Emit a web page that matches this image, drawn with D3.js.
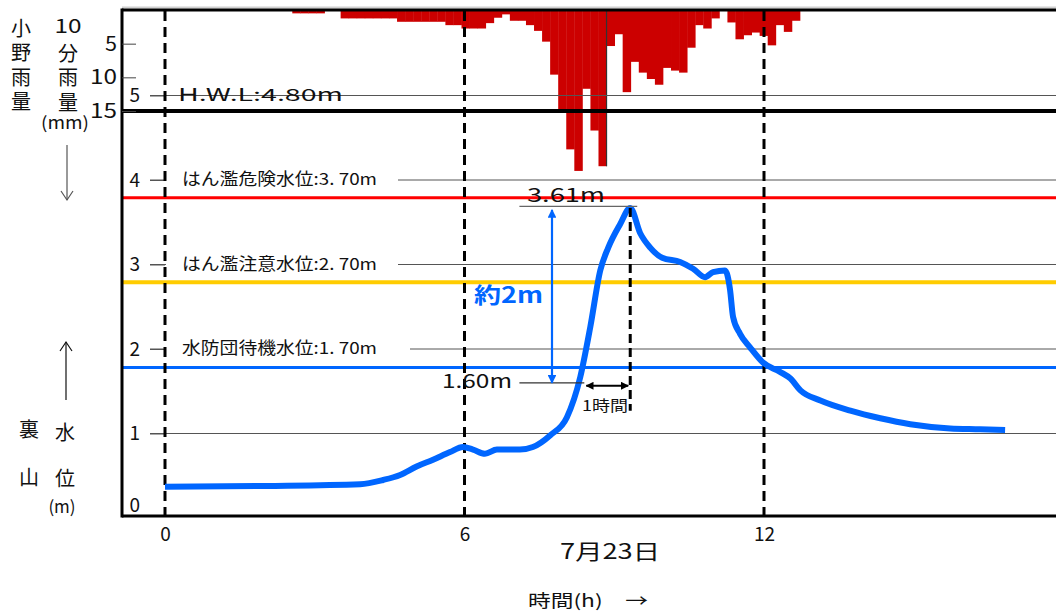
<!DOCTYPE html>
<html>
<head>
<meta charset="utf-8">
<script src="https://cdn.jsdelivr.net/npm/d3@7"></script>
<style>
  body { margin: 0; background: #fff; }
  svg text { font-family: "Noto Sans CJK JP", "Noto Sans", sans-serif; fill: #111; }
</style>
</head>
<body>
<svg id="chart" width="1056" height="613"></svg>
<script>
// Water level at Urayama (m), hours from 0:00 on 7/23
const levelHours = [0, 2.04, 3.91, 4.37, 4.71, 5.04, 5.37, 5.71, 5.97, 6.17,
  6.41, 6.65, 7.11, 7.37, 7.72, 8.05, 8.32, 8.52, 8.72, 8.88,
  9.12, 9.32, 9.52, 9.72, 9.96, 10.32, 10.58, 10.82, 10.98, 11.22,
  11.32, 11.38, 11.52, 11.72, 11.98, 12.32, 12.53, 12.73, 13.13, 13.73,
  14.33, 14.93, 15.73, 16.33, 16.83]
const levelValues = [0.37, 0.38, 0.40, 0.45, 0.51, 0.61, 0.69, 0.78, 0.84, 0.81,
  0.76, 0.81, 0.81, 0.84, 0.98, 1.19, 1.67, 2.26, 2.93, 3.20,
  3.48, 3.67, 3.37, 3.20, 3.08, 3.03, 2.95, 2.85, 2.91, 2.93,
  2.70, 2.38, 2.18, 2.02, 1.84, 1.73, 1.65, 1.51, 1.39, 1.27,
  1.18, 1.11, 1.06, 1.05, 1.04]

// Ono 10-minute rainfall (mm)
const rainStart = 2.55
const rainEnd = 12.72
const rainValues = [0.5, 0.5, 0.5, 0.5, 0, 0,
  1.25, 1.25, 1.25, 1.25, 1.25, 1.25, 1.25,
  1.75, 1.75, 1.75, 1.75, 1.75, 1.75,
  2.25, 2.25, 2.75, 2.75, 2.75, 1.95, 1.15, 0.65, 1.6, 1.6, 2.25,
  3.1, 4.7, 9.6, 14.9, 20.7, 23.9, 11.7, 17.9, 23.2, 5.35,
  3.6, 12.2, 7.7, 9.3, 10.25, 11.1, 8.6, 9.0, 9.3, 5.6,
  2.25, 2.75, 1.25, 0, 1.85, 4.35, 3.75, 3.35, 3.85, 5.25,
  2.25, 3.25, 1.6]
const rainMarkBin = 39

// Axes
const hourTicks = [0, 6, 12]
const levelTicks = [0, 1, 2, 3, 4, 5]
const rainTicks = [5, 10, 15]
const dashedHours = [0, 6, 12]

// Warning levels
const thresholdLabels = ["はん濫危険水位:3. 70m", "はん濫注意水位:2. 70m", "水防団待機水位:1. 70m"]
const thresholdLevels = [3.79, 2.79, 1.78]
const hwlLabel = "H.W.L:4.80m"

// Rise annotation
const peakLabel = "3.61m"
const riseLow = 1.60
const riseFrom = 7.1
const riseCross = 8.4

const svg = d3.select("#chart")
const W = 1056
const frameL = 122, frameT = 10, frameB = 516, sepY = 111

const x = d3.scaleLinear().domain([0, 12]).range([165, 764])
const y = d3.scaleLinear().domain([0, 5]).range([518, 95.5])
const yR = d3.scaleLinear().domain([0, 15]).range([frameT, sepY])
const band = d3.scaleBand().domain(d3.range(rainValues.length))
  .range([x(rainStart), x(rainEnd)])

svg.append("rect").attr("width", W).attr("height", 613).attr("fill", "#fff")

// arrowheads
const defs = svg.append("defs")
function marker(id, color) {
  defs.append("marker").attr("id", id)
    .attr("viewBox", "0 0 10 10").attr("refX", 9).attr("refY", 5)
    .attr("markerWidth", 4).attr("markerHeight", 4).attr("orient", "auto-start-reverse")
    .attr("markerUnits", "strokeWidth")
    .append("path").attr("d", "M0,0L10,5L0,10z").attr("fill", color)
}
marker("arBlue", "#0066ff")
marker("arBlack", "#000")

// gray line above frame
svg.append("line").attr("x1", frameL).attr("x2", W).attr("y1", 7.5).attr("y2", 7.5)
  .attr("stroke", "#d0d0d0").attr("stroke-width", 2)

// Rain bars
svg.append("g").selectAll("rect")
  .data(rainValues)
  .enter()
  .append("rect")
  .attr("x", (d, i) => band(i))
  .attr("y", yR(0))
  .attr("width", band.bandwidth() + 0.4)
  .attr("height", d => yR(d) - yR(0))
  .attr("fill", "#cc0000")

svg.append("line")
  .attr("x1", band(rainMarkBin)).attr("x2", band(rainMarkBin))
  .attr("y1", yR(0)).attr("y2", yR(rainValues[rainMarkBin - 1]))
  .attr("stroke", "#333").attr("stroke-width", 1.2)

// Grid lines
svg.append("g").selectAll("line")
  .data(levelTicks.slice(1))
  .enter()
  .append("line")
  .attr("x1", 150).attr("x2", W)
  .attr("y1", d => y(d)).attr("y2", d => y(d))
  .attr("stroke", "#555").attr("stroke-width", 1)

// Threshold labels with white backing
const thr = svg.append("g")
thresholdLabels.forEach((t, i) => {
  const ty = y(Math.ceil(thresholdLevels[i]))
  const g = thr.append("g")
  g.append("rect").attr("fill", "#fff")
    .attr("x", 166).attr("y", ty - 11).attr("width", (i === 2 ? 244 : 232)).attr("height", 22)
  g.append("text")
    .attr("x", 182).attr("y", ty + 1)
    .attr("dominant-baseline", "middle")
    .attr("font-size", 16.5)
    .attr("textLength", 195).attr("lengthAdjust", "spacingAndGlyphs")
    .text(t)
})

// H.W.L label
svg.append("text").attr("x", 178).attr("y", y(5) + 1)
  .attr("dominant-baseline", "middle").attr("font-size", 17)
  .attr("textLength", 165).attr("lengthAdjust", "spacingAndGlyphs")
  .text(hwlLabel)

// Threshold lines
const thrColors = ["#ff0000", "#ffcc00", "#0066ff"]
const thrWidths = [3, 4, 3]
svg.append("g").selectAll("line")
  .data(thresholdLevels)
  .enter()
  .append("line")
  .attr("x1", frameL).attr("x2", W)
  .attr("y1", d => y(d)).attr("y2", d => y(d))
  .attr("stroke", (d, i) => thrColors[i])
  .attr("stroke-width", (d, i) => thrWidths[i])

// Frame
const frame = svg.append("g").attr("stroke", "#000")
frame.append("line").attr("x1", frameL).attr("x2", W).attr("y1", frameT).attr("y2", frameT).attr("stroke-width", 3)
frame.append("line").attr("x1", frameL).attr("x2", W).attr("y1", sepY).attr("y2", sepY).attr("stroke-width", 4)
frame.append("line").attr("x1", frameL).attr("x2", W).attr("y1", frameB).attr("y2", frameB).attr("stroke-width", 3)
frame.append("line").attr("x1", frameL).attr("x2", frameL).attr("y1", frameT - 1.5).attr("y2", frameB + 1.5).attr("stroke-width", 3)

// Rain axis (ticks inside, labels outside)
const rainAxis = svg.append("g")
  .attr("transform", `translate(${frameL}, 0)`)
  .call(d3.axisLeft(yR).tickValues(rainTicks).tickSize(-14).tickPadding(5))
rainAxis.select(".domain").remove()
rainAxis.selectAll("line").attr("stroke", "#444")
rainAxis.selectAll("text").style("font-size", "20px").attr("fill", "#111")
  .attr("textLength", d => d < 10 ? 12 : 27).attr("lengthAdjust", "spacingAndGlyphs")

// Level axis
const levelAxis = svg.append("g")
  .attr("transform", `translate(165, 0)`)
  .call(d3.axisLeft(y).tickValues(levelTicks).tickFormat(d3.format("d"))
    .tickSize(15).tickPadding(10))
levelAxis.select(".domain").remove()
levelAxis.selectAll("line").attr("stroke", "#555")
levelAxis.selectAll(".tick").filter(d => d === 0).select("line").remove()
levelAxis.selectAll("text").style("font-size", "19px").attr("fill", "#111")
  .attr("y", d => d === 0 ? -13 : 0)

// Hour axis
const hourAxis = svg.append("g")
  .attr("transform", `translate(0, ${frameB})`)
  .call(d3.axisBottom(x).tickValues(hourTicks).tickSize(0).tickPadding(12))
hourAxis.select(".domain").remove()
hourAxis.selectAll("text").style("font-size", "19px").attr("fill", "#111")

// Dashed hour lines
svg.append("g").selectAll("line")
  .data(dashedHours)
  .enter()
  .append("line")
  .attr("x1", d => x(d)).attr("x2", d => x(d))
  .attr("y1", frameT + 1).attr("y2", frameB)
  .attr("stroke", "#000").attr("stroke-width", 3)
  .attr("stroke-dasharray", "10,6")

// Water level curve
const pts = levelHours.map((h, i) => [h, levelValues[i]])
const line = d3.line().x(d => x(d[0])).y(d => y(d[1])).curve(d3.curveMonotoneX)
svg.append("path").datum(pts)
  .attr("d", line)
  .attr("fill", "none")
  .attr("stroke", "#0066ff")
  .attr("stroke-width", 6)
  .attr("stroke-linejoin", "round")

// Peak annotations
const peakIdx = d3.maxIndex(levelValues)
const peakH = levelHours[peakIdx]
const peakV = levelValues[peakIdx]

svg.append("line")
  .attr("x1", x(peakH)).attr("x2", x(peakH))
  .attr("y1", y(peakV)).attr("y2", y(riseLow) + 28)
  .attr("stroke", "#000").attr("stroke-width", 3).attr("stroke-dasharray", "9,5")

svg.append("line")
  .attr("x1", x(riseFrom)).attr("x2", x(peakH) + 7)
  .attr("y1", y(peakV) - 1.5).attr("y2", y(peakV) - 1.5)
  .attr("stroke", "#666").attr("stroke-width", 1.2)
svg.append("text").attr("x", 527).attr("y", y(peakV) - 11)
  .attr("dominant-baseline", "middle").attr("font-size", 19)
  .attr("textLength", 78).attr("lengthAdjust", "spacingAndGlyphs")
  .text(peakLabel)

svg.append("line")
  .attr("x1", x(riseFrom)).attr("x2", x(riseCross))
  .attr("y1", y(riseLow)).attr("y2", y(riseLow))
  .attr("stroke", "#333").attr("stroke-width", 1.2)
svg.append("text").attr("x", 442).attr("y", y(riseLow))
  .attr("dominant-baseline", "middle").attr("font-size", 19)
  .attr("textLength", 70).attr("lengthAdjust", "spacingAndGlyphs")
  .text("1.60m")

// blue vertical rise arrow
const ax = 552
svg.append("line")
  .attr("x1", ax).attr("x2", ax)
  .attr("y1", y(peakV) + 2).attr("y2", y(riseLow))
  .attr("stroke", "#0066ff").attr("stroke-width", 2.2)
  .attr("marker-start", "url(#arBlue)").attr("marker-end", "url(#arBlue)")
svg.append("text").attr("x", 474).attr("y", 297)
  .attr("dominant-baseline", "middle").attr("font-size", 22).attr("font-weight", "bold")
  .style("fill", "#0066ff")
  .attr("textLength", 69).attr("lengthAdjust", "spacingAndGlyphs")
  .text("約2m")

// 1 hour arrow
svg.append("line")
  .attr("x1", x(riseCross) + 2).attr("x2", x(peakH) - 2)
  .attr("y1", y(riseLow) + 3).attr("y2", y(riseLow) + 3)
  .attr("stroke", "#000").attr("stroke-width", 2)
  .attr("marker-start", "url(#arBlack)").attr("marker-end", "url(#arBlack)")
svg.append("text").attr("x", 582).attr("y", y(riseLow) + 24)
  .attr("dominant-baseline", "middle").attr("font-size", 15)
  .attr("textLength", 46).attr("lengthAdjust", "spacingAndGlyphs")
  .text("1時間")

// Bottom labels
svg.append("text").attr("x", 610).attr("y", 553).attr("text-anchor", "middle")
  .attr("dominant-baseline", "middle").attr("font-size", 21)
  .attr("textLength", 100).attr("lengthAdjust", "spacingAndGlyphs")
  .text("7月23日")
svg.append("text").attr("x", 528).attr("y", 602)
  .attr("dominant-baseline", "middle").attr("font-size", 17)
  .attr("textLength", 120).attr("lengthAdjust", "spacingAndGlyphs")
  .text("時間(h)\u3000→")

// Left side vertical titles (vertical writing, one text per column)
function column(str, cx, topY, spacing) {
  return svg.append("text")
    .attr("x", cx).attr("y", topY)
    .attr("writing-mode", "vertical-rl")
    .style("writing-mode", "vertical-rl")
    .attr("font-size", 20)
    .attr("letter-spacing", spacing)
    .text(str)
}
column("小野雨量", 21, 18, 4.5)
svg.append("text").attr("x", 68).attr("y", 28).attr("text-anchor", "middle")
  .attr("dominant-baseline", "middle").attr("font-size", 19)
  .attr("textLength", 27).attr("lengthAdjust", "spacingAndGlyphs").text("10")
column("分雨量", 68, 43, 4.5)
svg.append("text").attr("x", 65).attr("y", 124).attr("text-anchor", "middle")
  .attr("dominant-baseline", "middle").attr("font-size", 17)
  .attr("textLength", 48).attr("lengthAdjust", "spacingAndGlyphs").text("(mm)")

column("裏山", 29, 419, 28)
column("水位", 65, 422, 26)
svg.append("text").attr("x", 62).attr("y", 508).attr("text-anchor", "middle")
  .attr("dominant-baseline", "middle").attr("font-size", 17).text("(m)")

// arrows beside titles
svg.append("line").attr("x1", 67).attr("x2", 67).attr("y1", 145).attr("y2", 200)
  .attr("stroke", "#555").attr("stroke-width", 1.2)
svg.append("path").attr("d", "M61,191L67,200L73,191").attr("fill", "none")
  .attr("stroke", "#555").attr("stroke-width", 1.2)
svg.append("line").attr("x1", 66).attr("x2", 66).attr("y1", 342).attr("y2", 400)
  .attr("stroke", "#111").attr("stroke-width", 1.2)
svg.append("path").attr("d", "M60,351L66,342L72,351").attr("fill", "none")
  .attr("stroke", "#111").attr("stroke-width", 1.2)
</script>
</body>
</html>
